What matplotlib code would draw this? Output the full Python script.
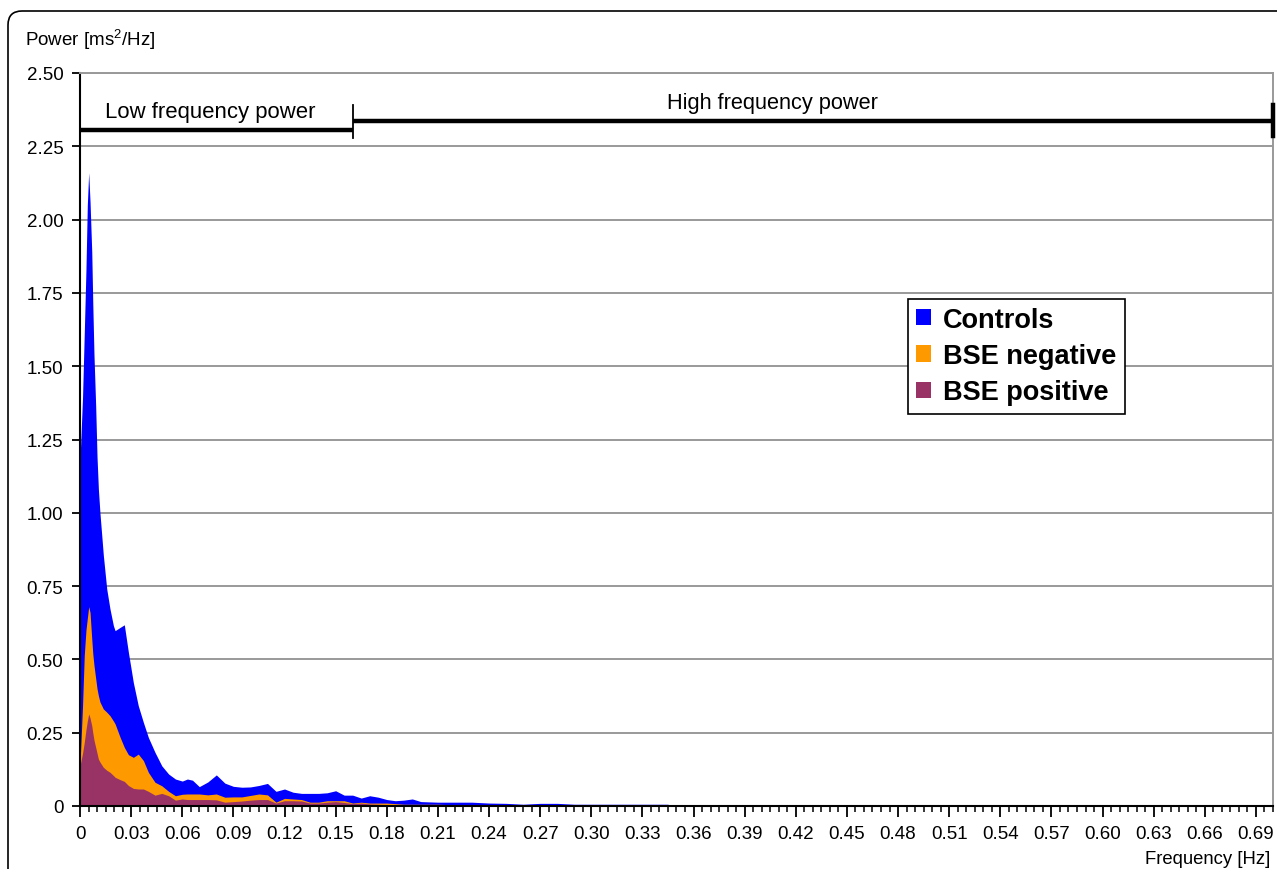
import matplotlib
matplotlib.use("Agg")
import matplotlib.pyplot as plt
from matplotlib.patches import FancyBboxPatch
from matplotlib.transforms import IdentityTransform
from matplotlib.ticker import MultipleLocator, FuncFormatter

plt.rcParams["font.family"] = ["Liberation Sans", "DejaVu Sans"]
plt.rcParams["mathtext.fontset"] = "custom"
plt.rcParams["mathtext.rm"] = "Liberation Sans"

# %%
# Spectra (frequency in Hz, power in ms^2/Hz)
freq = [0.0, 0.0015, 0.0025, 0.0035, 0.0043, 0.0051, 0.0059, 0.0069, 0.0075, 0.0082,
        0.0092, 0.0100, 0.0108, 0.0117, 0.0137, 0.0157, 0.0176, 0.0196, 0.0206, 0.0235,
        0.0260, 0.0284, 0.0313, 0.0342, 0.0372, 0.0401, 0.0440, 0.0480, 0.0520, 0.0560,
        0.0600, 0.0630, 0.0660, 0.0700, 0.0750, 0.0800, 0.0850, 0.0900, 0.0950, 0.1000,
        0.1050, 0.1100, 0.1150, 0.1200, 0.1250, 0.1300, 0.1350, 0.1400, 0.1450, 0.1500,
        0.1550, 0.1600, 0.1650, 0.1700, 0.1750, 0.1800, 0.1850, 0.1900, 0.1950, 0.2000,
        0.2100, 0.2200, 0.2300, 0.2400, 0.2500, 0.2600, 0.2700, 0.2800, 0.2900, 0.3000,
        0.3200, 0.3450, 0.3460, 0.7000]

controls = [1.18, 1.395, 1.61, 1.83, 2.05, 2.16, 2.06, 1.89, 1.715, 1.54,
            1.365, 1.19, 1.08, 1.00, 0.855, 0.74, 0.672, 0.615, 0.598, 0.609,
            0.618, 0.524, 0.421, 0.342, 0.285, 0.234, 0.183, 0.137, 0.109, 0.092,
            0.085, 0.092, 0.088, 0.066, 0.082, 0.106, 0.078, 0.067, 0.064, 0.065,
            0.070, 0.077, 0.050, 0.058, 0.047, 0.043, 0.043, 0.043, 0.045, 0.052,
            0.037, 0.037, 0.027, 0.035, 0.030, 0.022, 0.018, 0.020, 0.024, 0.015,
            0.013, 0.013, 0.013, 0.010, 0.009, 0.006, 0.009, 0.009, 0.006, 0.006,
            0.006, 0.006, 0.0, 0.0]

bse_negative = [0.14, 0.342, 0.513, 0.60, 0.64, 0.68, 0.66, 0.57, 0.52, 0.48,
                0.435, 0.40, 0.376, 0.355, 0.331, 0.320, 0.308, 0.290, 0.280, 0.235,
                0.200, 0.175, 0.166, 0.177, 0.155, 0.115, 0.081, 0.069, 0.050, 0.035,
                0.040, 0.041, 0.041, 0.041, 0.038, 0.041, 0.030, 0.031, 0.031, 0.036,
                0.041, 0.038, 0.013, 0.026, 0.024, 0.022, 0.013, 0.013, 0.018, 0.018,
                0.018, 0.010, 0.013, 0.010, 0.010, 0.010, 0.008, 0.006, 0.006, 0.006,
                0.006, 0.004, 0.005, 0.005, 0.0, 0.0, 0.0, 0.0, 0.0, 0.0,
                0.0, 0.0, 0.0, 0.0]

bse_positive = [0.137, 0.18, 0.217, 0.26, 0.29, 0.314, 0.30, 0.274, 0.25, 0.225,
                0.200, 0.180, 0.160, 0.150, 0.132, 0.122, 0.115, 0.104, 0.098, 0.090,
                0.084, 0.070, 0.060, 0.058, 0.058, 0.050, 0.037, 0.043, 0.035, 0.020,
                0.024, 0.022, 0.022, 0.022, 0.022, 0.021, 0.013, 0.015, 0.017, 0.020,
                0.022, 0.022, 0.010, 0.018, 0.018, 0.017, 0.010, 0.010, 0.013, 0.015,
                0.012, 0.008, 0.010, 0.007, 0.006, 0.005, 0.004, 0.004, 0.003, 0.003,
                0.002, 0.0, 0.0, 0.0, 0.0, 0.0, 0.0, 0.0, 0.0, 0.0,
                0.0, 0.0, 0.0, 0.0]

series_names = ["Controls", "BSE negative", "BSE positive"]
series_colors = ["#0000ff", "#ff9900", "#993366"]

# band limits (Hz)
lf_band = (0.0, 0.16)
hf_band = (0.16, 0.70)

# %%
fig = plt.figure(figsize=(12.77, 8.70), dpi=100)
ax = fig.add_axes([80 / 1277, 63 / 870, 1193 / 1277, 733 / 870])

for vals, name, col in zip([controls, bse_negative, bse_positive], series_names, series_colors):
    ax.fill_between(freq, vals, 0, color=col, linewidth=0, label=name, zorder=2)

ax.set_xlim(0, 0.70)
ax.set_ylim(0, 2.5)

ax.yaxis.set_major_locator(MultipleLocator(0.25))
ax.yaxis.set_major_formatter(FuncFormatter(lambda v, p: "0" if abs(v) < 1e-9 else f"{v:.2f}"))
ax.xaxis.set_major_locator(MultipleLocator(0.03))
ax.xaxis.set_minor_locator(MultipleLocator(0.005))
ax.xaxis.set_major_formatter(FuncFormatter(lambda v, p: "0" if abs(v) < 1e-9 else f"{v:.2f}"))

ax.grid(axis="y", color="#999999", linewidth=1.4, zorder=0)
ax.set_axisbelow(True)

ax.tick_params(axis="both", which="major", direction="out", length=6, width=1.3,
               labelsize=13.5, color="black")
ax.tick_params(axis="x", which="major", length=8, pad=6)
ax.tick_params(axis="x", which="minor", direction="out", length=4, width=1.1)
ax.tick_params(axis="y", pad=6)

for side in ["left", "bottom"]:
    ax.spines[side].set_color("black")
    ax.spines[side].set_linewidth(1.5)
for side in ["top", "right"]:
    ax.spines[side].set_color("#999999")
    ax.spines[side].set_linewidth(1.4)

# frequency band brackets
ax.plot(lf_band, [2.307, 2.307], color="black", linewidth=3.2, solid_capstyle="butt", clip_on=False, zorder=5)
ax.plot(hf_band, [2.335, 2.335], color="black", linewidth=3.2, solid_capstyle="butt", clip_on=False, zorder=5)
ax.plot([lf_band[1], lf_band[1]], [2.278, 2.391], color="black", linewidth=1.3, clip_on=False, zorder=5)
ax.plot([hf_band[1], hf_band[1]], [2.285, 2.39], color="black", linewidth=3.2, clip_on=False, zorder=5)
ax.text(0.0765, 2.37, "Low frequency power", fontsize=15.9, ha="center", va="center")
ax.text(0.406, 2.398, "High frequency power", fontsize=15.7, ha="center", va="center")

leg = ax.legend(loc="upper left", bbox_to_anchor=(0.694, 0.692), borderaxespad=0,
                frameon=True, fancybox=False, edgecolor="black", framealpha=1,
                prop={"weight": "bold", "size": 19.5}, handlelength=0.55, handleheight=0.55,
                handletextpad=0.45, labelspacing=0.38, borderpad=0.3)
leg.get_frame().set_linewidth(1.2)

fig.text(25 / 1277, 1 - 40 / 870, r"Power [ms$^{\mathrm{2}}$/Hz]", fontsize=13.5, ha="left", va="center")
fig.text(1270 / 1277, 1 - 860 / 870, "Frequency [Hz]", fontsize=13.3, ha="right", va="center")

# outer chart frame with rounded corner
frame = FancyBboxPatch((8, -60), 1400, 858 + 60, boxstyle="round,pad=0,rounding_size=14",
                       transform=IdentityTransform(), fill=False, edgecolor="black", linewidth=1.2)
fig.add_artist(frame)

fig.savefig("out.png", dpi=100)
